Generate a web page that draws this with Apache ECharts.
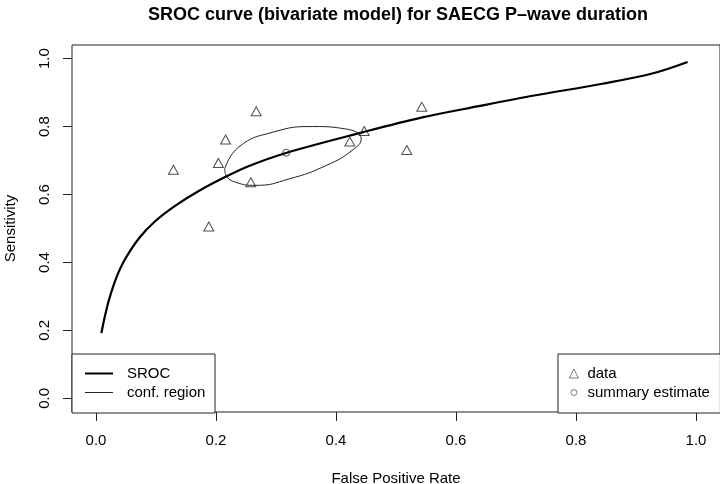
<!DOCTYPE html>
<html>
<head>
<meta charset="utf-8">
<script src="https://cdn.jsdelivr.net/npm/echarts@6/dist/echarts.min.js"></script>
<style>
html,body{margin:0;padding:0;background:#fff;}
#chart{width:720px;height:484px;}
</style>
</head>
<body>
<div id="chart"></div>
<script>
const xTicks = [0, 0.2, 0.4, 0.6, 0.8, 1.0];
const yTicks = [0, 0.2, 0.4, 0.6, 0.8, 1.0];

const studyFpr  = [0.129, 0.188, 0.204, 0.216, 0.267, 0.258, 0.423, 0.447, 0.518, 0.543];
const studySens = [0.673, 0.506, 0.693, 0.762, 0.845, 0.636, 0.756, 0.787, 0.731, 0.858];

const summaryFpr  = [0.317];
const summarySens = [0.723];

const srocFpr  = [0.009, 0.015, 0.022, 0.033, 0.047, 0.072, 0.099, 0.133, 0.172, 0.216, 0.255, 0.318, 0.444, 0.544, 0.638, 0.733, 0.844, 0.927, 0.986];
const srocSens = [0.192, 0.243, 0.292, 0.351, 0.405, 0.472, 0.522, 0.568, 0.611, 0.652, 0.684, 0.723, 0.783, 0.827, 0.860, 0.892, 0.926, 0.956, 0.990];

const ellFpr  = [0.2145, 0.238, 0.294, 0.361, 0.416, 0.442, 0.427, 0.383, 0.322, 0.266, 0.233, 0.217, 0.2145];
const ellSens = [0.675, 0.740, 0.783, 0.800, 0.793, 0.764, 0.730, 0.685, 0.646, 0.627, 0.636, 0.656, 0.675];

const zip = (a, b) => a.map((v, i) => [v, b[i]]);
const FONT = '"Liberation Sans", Arial, Helvetica, sans-serif';

const chart = echarts.init(document.getElementById('chart'), null, {renderer: 'canvas'});

const tickStyle = {show: true, length: 9, inside: false, lineStyle: {color: '#222', width: 1}};
const labelStyle = {fontFamily: FONT, fontSize: 15, color: '#000', formatter: v => v.toFixed(1)};

chart.setOption({
  backgroundColor: '#fff',
  animation: false,
  title: {
    text: 'SROC curve (bivariate model) for SAECG P\u2013wave duration',
    left: 393,
    textAlign: 'center',
    top: 1,
    textStyle: {fontFamily: FONT, fontSize: 18, fontWeight: 'bold', color: '#000'}
  },
  grid: {
    left: 72, top: 45, width: 648, height: 367,
    show: true, borderColor: '#222', borderWidth: 1, backgroundColor: 'transparent',
    outerBoundsMode: 'none'
  },
  xAxis: {
    type: 'value', min: -0.04, max: 1.04,
    splitLine: {show: false},
    axisLine: {show: false, onZero: false},
    axisTick: Object.assign({}, tickStyle, {customValues: xTicks}),
    axisLabel: Object.assign({}, labelStyle, {customValues: xTicks, margin: 21}),
    name: 'False Positive Rate',
    nameLocation: 'middle',
    nameGap: 59,
    nameTextStyle: {fontFamily: FONT, fontSize: 15, color: '#000'}
  },
  yAxis: {
    type: 'value', min: -0.04, max: 1.04,
    splitLine: {show: false},
    axisLine: {show: false, onZero: false},
    axisTick: Object.assign({}, tickStyle, {customValues: yTicks}),
    axisLabel: Object.assign({}, labelStyle, {customValues: yTicks, margin: 20, rotate: 90}),
    name: 'Sensitivity',
    nameLocation: 'middle',
    nameGap: 54,
    nameTextStyle: {fontFamily: FONT, fontSize: 15, color: '#000'}
  },
  legend: [
    {
      data: [
        {name: 'SROC', icon: 'path://M0,0L28,0L28,2L0,2Z', itemStyle: {color: '#000', borderWidth: 0}},
        {name: 'conf. region', icon: 'path://M0,0L28,0L28,1L0,1Z', itemStyle: {color: '#222', borderWidth: 0}}
      ],
      orient: 'vertical',
      left: 72, top: 354,
      padding: [12, 6, 13, 13],
      itemWidth: 28, itemHeight: 14, itemGap: 4,
      backgroundColor: '#fff',
      borderColor: '#222', borderWidth: 1, borderRadius: 0,
      textStyle: {fontFamily: FONT, fontSize: 15, lineHeight: 15, color: '#000', width: 82, padding: [0, 0, 0, 9]}
    },
    {
      data: [
        {name: 'data', icon: 'triangle', itemStyle: {color: 'rgba(255,255,255,0)', borderColor: '#333', borderWidth: 0.8}},
        {name: 'summary estimate', icon: 'path://M0,0M9,9M1.5,4.5A3,3,0,1,1,7.5,4.5A3,3,0,1,1,1.5,4.5Z', itemStyle: {color: 'rgba(255,255,255,0)', borderColor: '#333', borderWidth: 0.8}}
      ],
      orient: 'vertical',
      left: 558, top: 354,
      padding: [12, 9, 13, 11],
      itemWidth: 9, itemHeight: 9, itemGap: 4,
      backgroundColor: '#fff',
      borderColor: '#222', borderWidth: 1, borderRadius: 0,
      textStyle: {fontFamily: FONT, fontSize: 15, lineHeight: 15, color: '#000', width: 124, padding: [0, 0, 0, 4]}
    }
  ],
  series: [
    {
      name: 'SROC', type: 'line', data: zip(srocFpr, srocSens),
      smooth: 0.35, symbol: 'none', z: 3,
      lineStyle: {color: '#000', width: 2.2},
      itemStyle: {color: '#000'}
    },
    {
      name: 'conf. region', type: 'line', data: zip(ellFpr, ellSens),
      smooth: 0.5, symbol: 'none', z: 2,
      lineStyle: {color: '#222', width: 1},
      itemStyle: {color: '#222'}
    },
    {
      name: 'data', type: 'scatter', data: zip(studyFpr, studySens),
      symbol: 'triangle', symbolSize: [10, 9], z: 4,
      itemStyle: {color: 'rgba(255,255,255,0)', borderColor: '#222', borderWidth: 1}
    },
    {
      name: 'summary estimate', type: 'scatter', data: zip(summaryFpr, summarySens),
      symbol: 'circle', symbolSize: 7, z: 4,
      itemStyle: {color: 'rgba(255,255,255,0)', borderColor: '#222', borderWidth: 1}
    }
  ]
});
</script>
</body>
</html>
